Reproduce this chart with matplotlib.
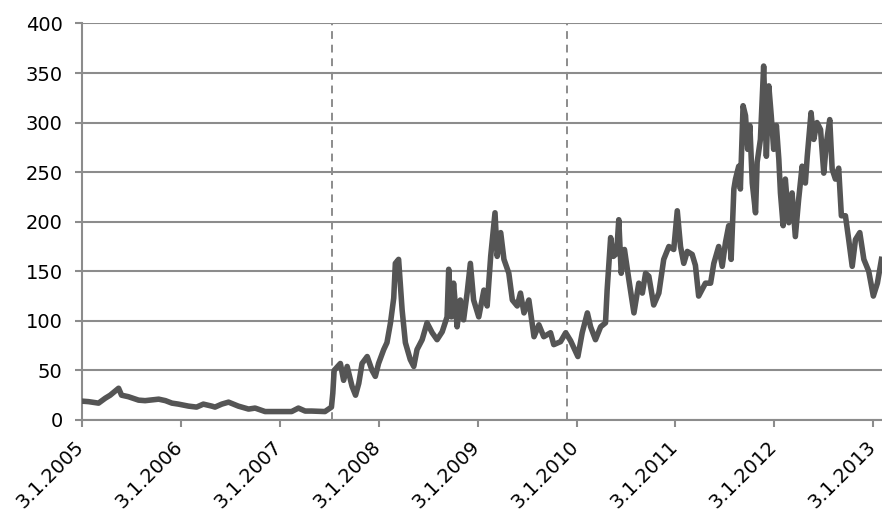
import matplotlib
matplotlib.use('Agg')
import matplotlib.pyplot as plt
from matplotlib.transforms import ScaledTranslation
import pandas as pd

# hodnoty
datumy = [
    '2005-01-03', '2005-01-27', '2005-03-05', '2005-03-30', '2005-04-17', '2005-05-18',
    '2005-05-29', '2005-06-23', '2005-07-31', '2005-08-24', '2005-10-13', '2005-11-07',
    '2005-12-01', '2005-12-25', '2006-01-31', '2006-03-02', '2006-03-27', '2006-04-27',
    '2006-05-09', '2006-06-03', '2006-06-28', '2006-08-03', '2006-09-10', '2006-10-04',
    '2006-11-10', '2006-12-29', '2007-02-16', '2007-03-13', '2007-04-07', '2007-05-01',
    '2007-06-19', '2007-07-13', '2007-07-18', '2007-07-23',
    '2007-08-15', '2007-08-27', '2007-09-09', '2007-09-27', '2007-10-10', '2007-10-22',
    '2007-11-03', '2007-11-22', '2007-12-10', '2007-12-22', '2008-01-03', '2008-01-22',
    '2008-02-03', '2008-02-16', '2008-02-28', '2008-03-05', '2008-03-17', '2008-03-30',
    '2008-04-11', '2008-04-29', '2008-05-12', '2008-05-24', '2008-06-12', '2008-06-30',
    '2008-07-19', '2008-08-06', '2008-08-25', '2008-09-12', '2008-09-18', '2008-09-28',
    '2008-10-06', '2008-10-19', '2008-10-31', '2008-11-12', '2008-11-25', '2008-12-07',
    '2008-12-19', '2009-01-07', '2009-01-26', '2009-02-07', '2009-02-20', '2009-03-08',
    '2009-03-16', '2009-03-29', '2009-04-10', '2009-04-28', '2009-05-11', '2009-05-29',
    '2009-06-10', '2009-06-23', '2009-07-11', '2009-07-30', '2009-08-17', '2009-09-04',
    '2009-09-29', '2009-10-11', '2009-11-05', '2009-11-24', '2009-12-12', '2010-01-08',
    '2010-01-24', '2010-02-12', '2010-02-24', '2010-03-14', '2010-04-02', '2010-04-20',
    '2010-04-26', '2010-05-09', '2010-05-19', '2010-05-31', '2010-06-08', '2010-06-17',
    '2010-06-29', '2010-07-15', '2010-08-03', '2010-08-21', '2010-09-03', '2010-09-15',
    '2010-09-27', '2010-10-15', '2010-11-03', '2010-11-21', '2010-12-10', '2010-12-28',
    '2011-01-10', '2011-01-22', '2011-02-03', '2011-02-16', '2011-03-06', '2011-03-18',
    '2011-03-30', '2011-04-24', '2011-05-13', '2011-05-25', '2011-06-12', '2011-06-25',
    '2011-07-07', '2011-07-19', '2011-07-28', '2011-08-07', '2011-08-13', '2011-08-25',
    '2011-08-31', '2011-09-10', '2011-09-19', '2011-09-27', '2011-10-05', '2011-10-14',
    '2011-10-26', '2011-11-01', '2011-11-13', '2011-11-25', '2011-12-05', '2011-12-14',
    '2011-12-23', '2012-01-01', '2012-01-11', '2012-01-20', '2012-01-26', '2012-02-05',
    '2012-02-13', '2012-02-26', '2012-03-09', '2012-03-21', '2012-04-02', '2012-04-15',
    '2012-04-27', '2012-05-04', '2012-05-18', '2012-05-28', '2012-06-09', '2012-06-22',
    '2012-07-04', '2012-07-14', '2012-07-26', '2012-08-04', '2012-08-16', '2012-08-28',
    '2012-09-07', '2012-09-22', '2012-10-04', '2012-10-17', '2012-10-29', '2012-11-14',
    '2012-11-29', '2012-12-17', '2013-01-03', '2013-01-18', '2013-02-02',
]
hodnoty = [
    19, 18.5, 17, 22, 25, 32,
    25, 23.5, 20, 19.5, 21, 19.5,
    17, 16, 14, 13, 16, 14,
    13, 16, 18, 14, 11, 12,
    8.5, 8.5, 8.5, 12, 9, 9,
    8.5, 13, 27, 50,
    57, 40, 54, 34, 25, 37,
    57, 64, 50, 44, 57, 71,
    78, 98, 123, 158, 162, 111,
    78, 61, 54, 71, 81, 98,
    88, 81, 89, 104, 152, 104,
    138, 94, 121, 101, 128, 158,
    121, 104, 131, 115, 165, 209,
    165, 189, 162, 148, 121, 115,
    128, 108, 121, 84, 96, 84,
    88, 76, 79, 88, 80, 64,
    88, 108, 94, 81, 94, 98,
    131, 184, 165, 168, 202, 148,
    172, 142, 108, 138, 128, 148,
    145, 116, 128, 162, 175, 172,
    211, 175, 158, 170, 167, 156,
    125, 138, 138, 158, 175, 155,
    179, 196, 162, 233, 243, 256,
    233, 317, 307, 273, 297, 239,
    209, 260, 283, 357, 266, 337,
    307, 273, 297, 263, 229, 196,
    243, 199, 229, 185, 222, 256,
    239, 266, 310, 283, 300, 293,
    249, 280, 303, 253, 243, 254,
    206, 206, 182, 155, 182, 189,
    162, 150, 125, 138, 162,
]
svisle_cary = ['2007-07-15', '2009-11-29']
popisky_x = ['3.1.2005', '3.1.2006', '3.1.2007', '3.1.2008', '3.1.2009',
             '3.1.2010', '3.1.2011', '3.1.2012', '3.1.2013']
y_ticks = [0, 50, 100, 150, 200, 250, 300, 350, 400]

x = pd.to_datetime(datumy)
x_ticks = pd.to_datetime(popisky_x, format='%d.%m.%Y')

fig = plt.figure(figsize=(8.82, 5.15), dpi=100)
ax = fig.add_axes([0.093, 0.1845, 0.907, 0.77])

seda = '#8c8c8c'
for y in y_ticks:
    ax.axhline(y, color=seda, lw=1.5, zorder=1)
for d in svisle_cary:
    ax.axvline(pd.Timestamp(d), color=seda, lw=1.4, ls=(0, (4, 3)), zorder=1)

ax.plot(x, hodnoty, color='#555555', lw=4, solid_joinstyle='round', zorder=3)

ax.set_ylim(0, 400)
ax.set_xlim(pd.Timestamp('2005-01-03'), pd.Timestamp('2013-02-04'))
ax.set_yticks(y_ticks)
ax.set_xticks(x_ticks)
ax.set_xticklabels(popisky_x, rotation=45, ha='right', va='bottom',
                   rotation_mode='anchor', fontsize=14)

for s in ['top', 'right']:
    ax.spines[s].set_visible(False)
for s in ['left', 'bottom']:
    ax.spines[s].set_color(seda)
    ax.spines[s].set_linewidth(1.5)

ax.tick_params(axis='both', colors=seda, length=5, width=1.5, labelcolor='black')
ax.tick_params(axis='y', pad=9, labelsize=14)
ax.tick_params(axis='x', pad=17)

# popisky trochu doprava, aby konec textu sedel na ticku
posun = ScaledTranslation(0.06, 0, fig.dpi_scale_trans)
for lab in ax.get_xticklabels():
    lab.set_transform(lab.get_transform() + posun)

fig.savefig('out.png', dpi=100)
